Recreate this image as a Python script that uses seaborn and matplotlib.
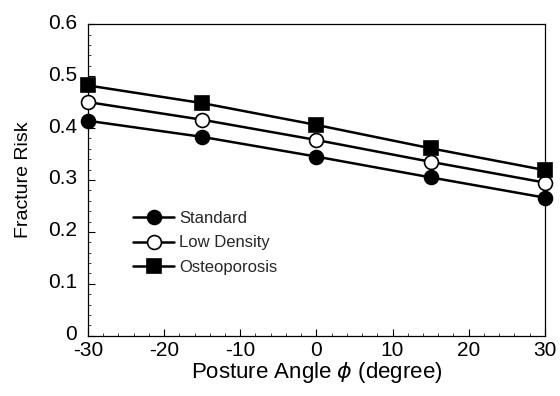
import matplotlib
matplotlib.use("Agg")
import matplotlib.pyplot as plt
import matplotlib.transforms as mtransforms
import seaborn as sns
import pandas as pd
from matplotlib.ticker import MultipleLocator
from matplotlib.lines import Line2D

angles = [-30, -15, 0, 15, 30]
standard = [0.414, 0.383, 0.345, 0.305, 0.266]
low_density = [0.450, 0.416, 0.377, 0.335, 0.295]
osteoporosis = [0.482, 0.448, 0.406, 0.361, 0.319]
series_names = ["Standard", "Low Density", "Osteoporosis"]
x_ticks = [-30, -20, -10, 0, 10, 20, 30]
y_ticks = [0, 0.1, 0.2, 0.3, 0.4, 0.5, 0.6]
y_tick_labels = ["0", "0.1", "0.2", "0.3", "0.4", "0.5", "0.6"]

sns.set_theme(style="white")
plt.rcParams["font.family"] = ["Liberation Sans", "DejaVu Sans"]
plt.rcParams["axes.unicode_minus"] = False

fig = plt.figure(figsize=(5.6, 3.96), dpi=100)
ax = fig.add_axes([0.157, 0.152, 0.816, 0.787])

styles = [
    dict(marker="o", markerfacecolor="black", markersize=10),
    dict(marker="o", markerfacecolor="white", markersize=10),
    dict(marker="s", markerfacecolor="black", markersize=9.5),
]
values = [standard, low_density, osteoporosis]
handles = []
for name, vals, st in zip(series_names, values, styles):
    df = pd.DataFrame({"angle": angles, "risk": vals})
    sns.lineplot(data=df, x="angle", y="risk", ax=ax, color="black",
                 linewidth=1.8, markeredgecolor="black", markeredgewidth=1.2,
                 clip_on=False, zorder=3, **st)
    handles.append(Line2D([], [], color="black", linewidth=1.8,
                          markeredgecolor="black", markeredgewidth=1.2, **st))

ax.set_xlim(-30, 30)
ax.set_ylim(0, 0.6)
ax.set_xticks(x_ticks)
ax.set_xticklabels([str(t) for t in x_ticks])
ax.set_yticks(y_ticks)
ax.set_yticklabels(y_tick_labels)
ax.xaxis.set_minor_locator(MultipleLocator(2))
ax.yaxis.set_minor_locator(MultipleLocator(0.02))
ax.tick_params(axis="both", which="major", direction="in", length=5, width=0.8,
               labelsize=15, colors="black", bottom=True, left=True)
ax.tick_params(axis="x", which="major", pad=4)
ax.tick_params(axis="y", which="major", pad=8)
ax.tick_params(axis="both", which="minor", direction="in", length=2.5, width=0.6,
               bottom=True, left=True)
shift_up = mtransforms.ScaledTranslation(0, 3 / 100, fig.dpi_scale_trans)
for lab in ax.get_yticklabels():
    lab.set_transform(lab.get_transform() + shift_up)
for sp in ax.spines.values():
    sp.set_color("black")
    sp.set_linewidth(0.9)

ax.set_xlabel(r"Posture Angle $\phi$ (degree)", fontsize=16, color="black", labelpad=0)
ax.set_ylabel("Fracture Risk", fontsize=14, color="black", labelpad=11)

leg = ax.legend(handles, series_names, loc="center left",
                bbox_to_anchor=(0.098, 0.298), frameon=False, fontsize=12,
                handlelength=2.5, handletextpad=0.3, labelspacing=0.55,
                borderpad=0, borderaxespad=0)

fig.savefig("out.png", dpi=100)
